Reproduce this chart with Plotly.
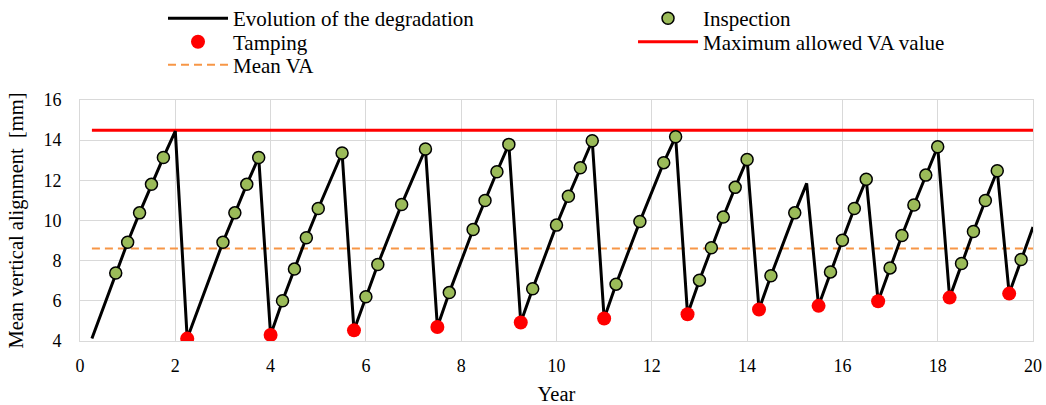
import plotly.graph_objects as go

# Degradation path: (year, mean vertical alignment in mm)
deg_years = [0.25, 0.75, 1.0, 1.25, 1.5, 1.75, 2.0,
             2.25, 3.0, 3.25, 3.5, 3.75,
             4.0, 4.25, 4.5, 4.75, 5.0, 5.5,
             5.75, 6.0, 6.25, 6.75, 7.25,
             7.5, 7.75, 8.25, 8.5, 8.75, 9.0,
             9.25, 9.5, 10.0, 10.25, 10.5, 10.75,
             11.0, 11.25, 11.75, 12.25, 12.5,
             12.75, 13.0, 13.25, 13.5, 13.75, 14.0,
             14.25, 14.5, 15.0, 15.25,
             15.5, 15.75, 16.0, 16.25, 16.5,
             16.75, 17.0, 17.25, 17.5, 17.75, 18.0,
             18.25, 18.5, 18.75, 19.0, 19.25,
             19.5, 19.75, 20.0]
deg_va = [4.12, 7.39, 8.92, 10.38, 11.8, 13.14, 14.45,
          4.12, 8.92, 10.38, 11.8, 13.14,
          4.3, 6.0, 7.58, 9.14, 10.6, 13.36,
          4.53, 6.2, 7.81, 10.8, 13.56,
          4.7, 6.41, 9.55, 11.0, 12.43, 13.79,
          4.92, 6.6, 9.77, 11.21, 12.63, 13.97,
          5.12, 6.83, 9.95, 12.88, 14.17,
          5.33, 7.03, 8.64, 10.17, 11.65, 13.04,
          5.57, 7.25, 10.38, 11.85,
          5.75, 7.44, 9.02, 10.6, 12.05,
          5.98, 7.64, 9.25, 10.77, 12.26, 13.67,
          6.16, 7.86, 9.45, 11.0, 12.48,
          6.36, 8.06, 9.68]

# Tamping interventions
tamp_years = [2.25, 4.0, 5.75, 7.5, 9.25, 11.0, 12.75, 14.25, 15.5, 16.75, 18.25, 19.5]
tamp_va = [4.12, 4.3, 4.53, 4.7, 4.92, 5.12, 5.33, 5.57, 5.75, 5.98, 6.16, 6.36]

# Inspections
insp_years = [0.75, 1.0, 1.25, 1.5, 1.75,
              3.0, 3.25, 3.5, 3.75,
              4.25, 4.5, 4.75, 5.0, 5.5,
              6.0, 6.25, 6.75, 7.25,
              7.75, 8.25, 8.5, 8.75, 9.0,
              9.5, 10.0, 10.25, 10.5, 10.75,
              11.25, 11.75, 12.25, 12.5,
              13.0, 13.25, 13.5, 13.75, 14.0,
              14.5, 15.0,
              15.75, 16.0, 16.25, 16.5,
              17.0, 17.25, 17.5, 17.75, 18.0,
              18.5, 18.75, 19.0, 19.25,
              19.75]
insp_va = [7.39, 8.92, 10.38, 11.8, 13.14,
           8.92, 10.38, 11.8, 13.14,
           6.0, 7.58, 9.14, 10.6, 13.36,
           6.2, 7.81, 10.8, 13.56,
           6.41, 9.55, 11.0, 12.43, 13.79,
           6.6, 9.77, 11.21, 12.63, 13.97,
           6.83, 9.95, 12.88, 14.17,
           7.03, 8.64, 10.17, 11.65, 13.04,
           7.25, 10.38,
           7.44, 9.02, 10.6, 12.05,
           7.64, 9.25, 10.77, 12.26, 13.67,
           7.86, 9.45, 11.0, 12.48,
           8.06]

limit_years = [0.25, 20.0]
max_va = [14.5, 14.5]
mean_va = [8.6, 8.6]

FONT = "Liberation Serif"

fig = go.Figure()
# Reference levels first so the degradation path and markers sit above them
fig.add_trace(go.Scatter(x=limit_years, y=max_va, mode="lines",
                         line=dict(color="#ff0000", width=3),
                         name="Maximum allowed VA value", legend="legend4",
                         showlegend=True))
fig.add_trace(go.Scatter(x=limit_years, y=mean_va, mode="lines",
                         line=dict(color="#f79646", width=2, dash="8px,5px"),
                         name="Mean VA", legend="legend5", showlegend=True))
fig.add_trace(go.Scatter(x=deg_years, y=deg_va, mode="lines",
                         line=dict(color="black", width=3),
                         name="Evolution of the degradation", legend="legend",
                         showlegend=True))
fig.add_trace(go.Scatter(x=insp_years, y=insp_va, mode="markers",
                         marker=dict(color="#9bbb59", size=12,
                                     line=dict(color="black", width=1.5)),
                         name="Inspection", legend="legend2", showlegend=True))
fig.add_trace(go.Scatter(x=tamp_years, y=tamp_va, mode="markers",
                         marker=dict(color="#ff0000", size=14),
                         name="Tamping", legend="legend3", showlegend=True))


def legend_at(x, y):
    # One legend box per entry, laid out as a two-column grid above the plot
    return dict(x=x, y=y, xanchor="left", yanchor="middle", itemwidth=60,
                font=dict(family=FONT, size=21), bgcolor="rgba(0,0,0,0)")


COL1, COL2 = 0.0871, 0.5803
ROW1, ROW2, ROW3 = 1.338, 1.240, 1.145

fig.update_layout(
    width=1046, height=405,
    showlegend=True,
    margin=dict(l=80, r=13, t=100, b=64, autoexpand=False),
    plot_bgcolor="white", paper_bgcolor="white",
    font=dict(family=FONT, size=18, color="black"),
    legend=legend_at(COL1, ROW1),
    legend2=legend_at(COL2, ROW1),
    legend3=legend_at(COL1, ROW2),
    legend4=legend_at(COL2, ROW2),
    legend5=legend_at(COL1, ROW3),
    xaxis=dict(range=[0, 20], dtick=2, showgrid=True, gridcolor="#d9d9d9",
               showline=True, linecolor="#d9d9d9", mirror=True, zeroline=False,
               ticks="", ticklabelstandoff=8, tickfont=dict(family=FONT, size=18),
               title=dict(text="Year", font=dict(family=FONT, size=20.5), standoff=14)),
    yaxis=dict(range=[4, 16], dtick=2, showgrid=True, gridcolor="#d9d9d9",
               showline=True, linecolor="#d9d9d9", mirror=True, zeroline=False,
               ticks="", ticklabelstandoff=14, tickfont=dict(family=FONT, size=18),
               title=dict(text="Mean vertical alignment\u00a0 [mm]",
                          font=dict(family=FONT, size=20.5), standoff=14)),
)

fig.write_html("out.html")
